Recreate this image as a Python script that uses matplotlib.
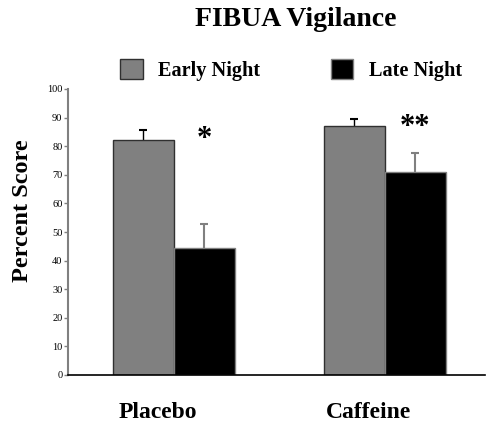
import matplotlib
matplotlib.use("Agg")
import matplotlib.pyplot as plt
import numpy as np

categories = ["Placebo", "Caffeine"]
series_names = ["Early Night", "Late Night"]
early_vals = [82.0, 87.0]
early_err = [3.6, 2.4]
late_vals = [44.5, 71.0]
late_err = [8.3, 6.5]
stars = ["*", "**"]
star_y = [82.5, 86.5]
yticks = list(range(0, 101, 10))

plt.rcParams['font.family'] = ['Liberation Serif', 'DejaVu Serif']

fig = plt.figure(figsize=(4.86, 4.28), dpi=100)
ax = fig.add_axes([68/486, 1 - 375/428, (485-68)/486, (375-89)/428])

x = np.arange(len(categories))
w = 0.289
early_x = x - w/2
late_x = x + w/2
ax.bar(early_x, early_vals, w, color='#808080', edgecolor='#303030', linewidth=1.0,
       label=series_names[0], zorder=2)
ax.bar(late_x, late_vals, w, color='black', edgecolor='#808080', linewidth=1.0,
       label=series_names[1], zorder=2)

early_top = np.array(early_vals) + np.array(early_err)
late_top = np.array(late_vals) + np.array(late_err)
ax.vlines(early_x, early_vals, early_top, color='black', linewidth=1.0, zorder=1)
ax.plot(early_x, early_top, linestyle='none', marker='_', markersize=6, markeredgewidth=1.5,
        color='black', zorder=1)
ax.vlines(late_x, late_vals, late_top, color='#808080', linewidth=1.5, zorder=1)
ax.plot(late_x, late_top, linestyle='none', marker='_', markersize=6, markeredgewidth=1.5,
        color='#808080', zorder=1)

for xi, s, sy in zip(late_x, stars, star_y):
    ax.text(xi, sy, s, ha='center', va='center', fontsize=22, fontweight='bold')

ax.set_xlim(-0.502, 1.474)
ax.set_ylim(0, 100)
ax.set_yticks(yticks)
ax.tick_params(axis='y', labelsize=7.5, length=3, width=1, color='#808080', pad=1)
ax.set_xticks([])
for s in ['top', 'right']:
    ax.spines[s].set_visible(False)
ax.spines['left'].set_color('#808080')
ax.spines['left'].set_linewidth(1.5)
ax.spines['bottom'].set_color('black')
ax.spines['bottom'].set_linewidth(1.2)

for xi, c in zip(x, categories):
    ax.text(xi - 0.077, -0.13, c, transform=ax.get_xaxis_transform(), ha='center', va='center',
            fontsize=17, fontweight='bold')

fig.text(23/486, 1 - 211/428, "Percent Score", rotation=90, ha='center', va='center',
         fontsize=17.5, fontweight='bold')
fig.text(296/486, 1 - 20/428, "FIBUA Vigilance", ha='center', va='center',
         fontsize=20, fontweight='bold')

leg = fig.legend(loc='center', bbox_to_anchor=(291/486, 1 - 70/428), ncol=2, frameon=False,
                 prop=dict(weight='bold', size=14.6), handlelength=1.1, handleheight=1.1,
                 handletextpad=0.75, columnspacing=3.5)

fig.savefig("out.png", dpi=100)
